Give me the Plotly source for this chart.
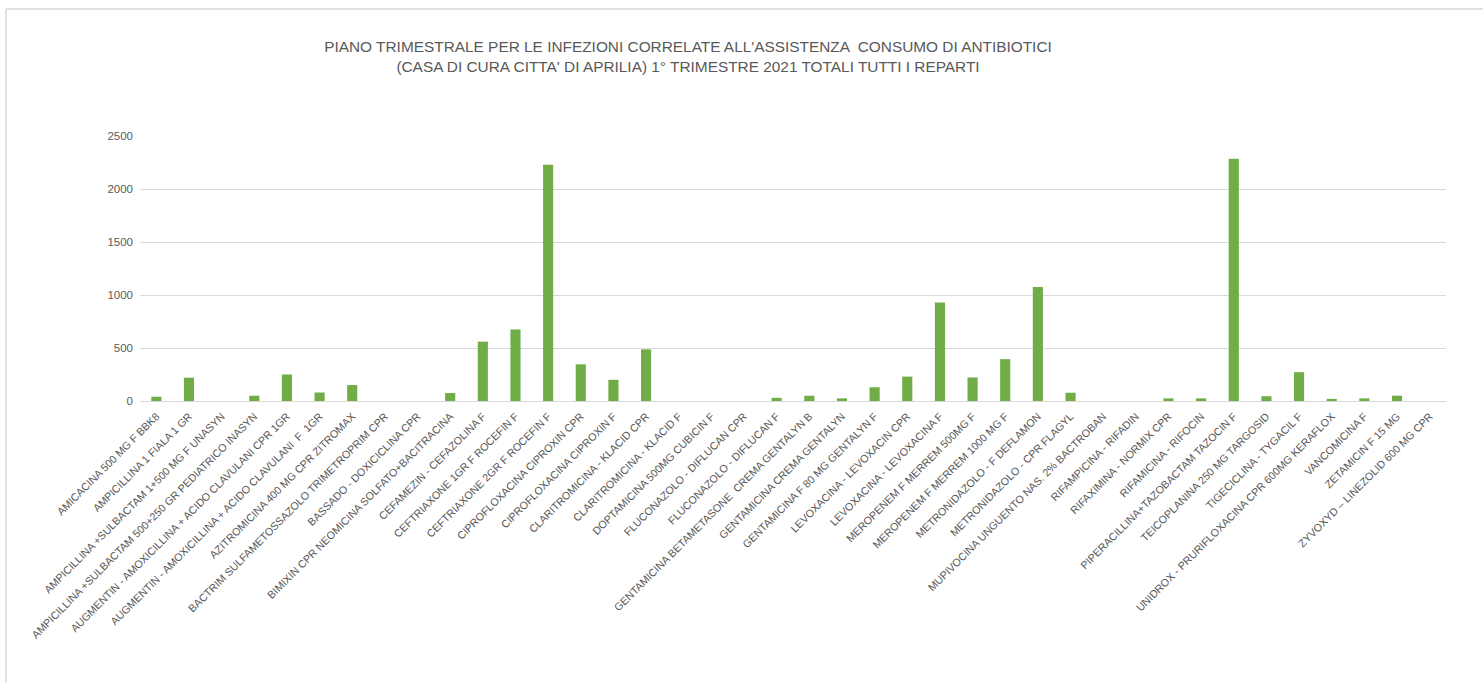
import plotly.graph_objects as go

categories = [
    "AMICACINA 500 MG F BBK8",
    "AMPICILLINA 1 FIALA 1 GR",
    "AMPICILLINA +SULBACTAM 1+500 MG F UNASYN",
    "AMPICILLINA +SULBACTAM 500+250 GR PEDIATRICO INASYN",
    "AUGMENTIN - AMOXICILLINA + ACIDO CLAVULANI CPR 1GR",
    "AUGMENTIN - AMOXICILLINA + ACIDO CLAVULANI  F  1GR",
    "AZITROMICINA 400 MG CPR ZITROMAX",
    "BACTRIM SULFAMETOSSAZOLO TRIMETROPRIM CPR",
    "BASSADO - DOXICICLINA CPR",
    "BIMIXIN CPR NEOMICINA SOLFATO+BACITRACINA",
    "CEFAMEZIN - CEFAZOLINA F",
    "CEFTRIAXONE 1GR F ROCEFIN F",
    "CEFTRIAXONE 2GR F ROCEFIN F",
    "CIPROFLOXACINA CIPROXIN CPR",
    "CIPROFLOXACINA CIPROXIN F",
    "CLARITROMICINA - KLACID CPR",
    "CLARITROMICINA - KLACID F",
    "DOPTAMICINA 500MG CUBICIN F",
    "FLUCONAZOLO - DIFLUCAN CPR",
    "FLUCONAZOLO - DIFLUCAN F",
    "GENTAMICINA BETAMETASONE  CREMA GENTALYN B",
    "GENTAMICINA CREMA GENTALYN",
    "GENTAMICINA F 80 MG GENTALYN F",
    "LEVOXACINA - LEVOXACIN CPR",
    "LEVOXACINA - LEVOXACINA F",
    "MEROPENEM F MERREM 500MG F",
    "MEROPENEM F MERREM 1000 MG F",
    "METRONIDAZOLO - F DEFLAMON",
    "METRONIDAZOLO - CPR FLAGYL",
    "MUPIVOCINA UNGUENTO NAS. 2% BACTROBAN",
    "RIFAMPICINA - RIFADIN",
    "RIFAXIMINA - NORMIX CPR",
    "RIFAMICINA - RIFOCIN",
    "PIPERACILLINA+TAZOBACTAM TAZOCIN F",
    "TEICOPLANINA 250 MG TARGOSID",
    "TIGECICLINA - TYGACIL F",
    "UNIDROX - PRURIFLOXACINA CPR 600MG KERAFLOX",
    "VANCOMICINA F",
    "ZETAMICIN F 15 MG",
    "ZYVOXYD \u2013 LINEZOLID 600 MG CPR",
]

values = [
    40, 220, 0, 50, 250, 80, 150, 0, 0, 75,
    560, 675, 2228, 346, 200, 487, 0, 0, 0, 30,
    50, 25, 130, 230, 930, 222, 395, 1075, 78, 0,
    0, 25, 25, 2286, 45, 272, 20, 25, 50, 0,
]

y_ticks = [0, 500, 1000, 1500, 2000, 2500]

title_text = ("PIANO TRIMESTRALE PER LE INFEZIONI CORRELATE ALL'ASSISTENZA  CONSUMO DI ANTIBIOTICI"
              "<br>(CASA DI CURA CITTA' DI APRILIA) 1\u00b0 TRIMESTRE 2021 TOTALI TUTTI I REPARTI")

FONT = "Liberation Sans, Arial, sans-serif"
W, H = 1483, 682
L, R, T, B = 140, 37, 136, 281

fig = go.Figure(
    go.Bar(
        x=categories,
        y=values,
        marker=dict(color="#70AD47", line=dict(width=0)),
    )
)

fig.update_layout(
    width=W,
    height=H,
    margin=dict(l=L, r=R, t=T, b=B, autoexpand=False),
    paper_bgcolor="white",
    plot_bgcolor="white",
    bargap=0.69,
    showlegend=False,
    font=dict(family=FONT, color="#595959", size=12),
    title=dict(
        text=title_text,
        x=688 / W,
        xanchor="center",
        y=1 - 52 / H,
        yanchor="middle",
        font=dict(family=FONT, size=15.4, color="#595959"),
    ),
    xaxis=dict(
        tickangle=-45,
        showgrid=False,
        showline=True,
        linecolor="#D9D9D9",
        linewidth=1,
        ticks="",
        ticklabelstandoff=4,
        tickfont=dict(family=FONT, size=10.7, color="#595959"),
        automargin=False,
    ),
    yaxis=dict(
        range=[0, 2500],
        tickvals=y_ticks,
        showgrid=True,
        gridcolor="#D9D9D9",
        gridwidth=1,
        zeroline=False,
        showline=False,
        ticks="",
        ticklabelstandoff=6,
        tickfont=dict(family=FONT, size=11.5, color="#595959"),
        automargin=False,
    ),
)

# chart-area border (light grey), cropped at right and bottom like the reference
fig.add_shape(type="line", xref="paper", yref="paper",
              x0=(6 - L) / (W - L - R), x1=(W + 5 - L) / (W - L - R),
              y0=(H - B - 9) / (H - T - B), y1=(H - B - 9) / (H - T - B),
              line=dict(color="#D9D9D9", width=1.5))
fig.add_shape(type="line", xref="paper", yref="paper",
              x0=(6 - L) / (W - L - R), x1=(6 - L) / (W - L - R),
              y0=(H - B - 9) / (H - T - B), y1=(-B - 5) / (H - T - B),
              line=dict(color="#D9D9D9", width=1.5))

fig.write_html("out.html")
